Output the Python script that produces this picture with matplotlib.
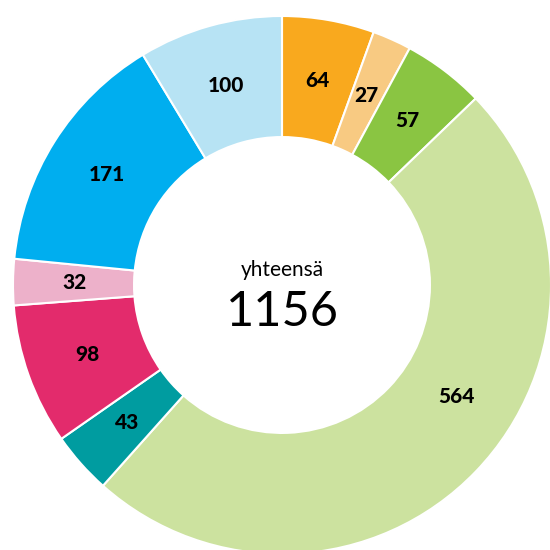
import numpy as np
import matplotlib.pyplot as plt

values = [64, 27, 57, 564, 43, 98, 32, 171, 100]
labels = [str(v) for v in values]
colors = ['#F9A91E', '#F8CA82', '#8AC542', '#CCE29F', '#009CA0',
          '#E32B6C', '#EDB1CA', '#00AEEF', '#B7E3F4']
center_title = 'yhteensä'
total = sum(values)

plt.rcParams['font.family'] = ['Lato', 'DejaVu Sans']

fig = plt.figure(figsize=(5.5, 5.5), dpi=100)
ax = fig.add_axes([0, 0, 1, 1])

inner = 0.55
wedges, _ = ax.pie(values, colors=colors, startangle=90, counterclock=False,
                   radius=1.0, wedgeprops=dict(width=1 - inner, edgecolor='white', linewidth=1.5))

# where along each segment the label sits (the big one is nudged upward like the original)
label_frac = [0.5, 0.5, 0.5, 0.435, 0.5, 0.5, 0.5, 0.5, 0.5]
rmid = 0.77
for w, lab, f in zip(wedges, labels, label_frac):
    # wedges are drawn clockwise, so theta2 is the starting edge
    ang = np.deg2rad(w.theta2 - f * (w.theta2 - w.theta1))
    ax.text(rmid * np.cos(ang), rmid * np.sin(ang), lab, ha='center', va='center',
            fontsize=15, fontweight='black', color='black')

ax.text(0, 0.055, center_title, ha='center', va='center', fontsize=15)
ax.text(0, -0.1, str(total), ha='center', va='center', fontsize=35)

# centre of ring sits at about (282, 285) px, radius ~269 px
ax.set_xlim(-282 / 269, (550 - 282) / 269)
ax.set_ylim(-(550 - 285) / 269, 285 / 269)
ax.set_aspect('equal')
ax.axis('off')

fig.savefig('out.png', dpi=100)
